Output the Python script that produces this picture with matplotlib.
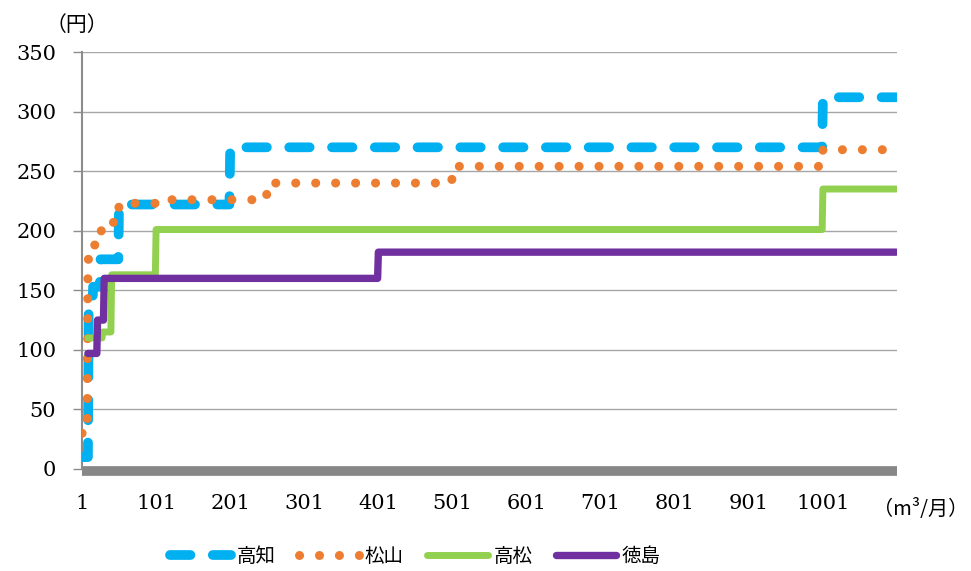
import matplotlib
matplotlib.use("Agg")
import matplotlib.pyplot as plt
import numpy as np

plt.rcParams['font.family'] = ['Noto Sans CJK JP', 'DejaVu Sans']

# usage categories 1..1100 (m3/month)
n_cat = 1100

# tiers: first category of each tier and its price (yen)
kochi_start = [1, 10, 16, 26, 51, 201, 1001]
kochi_val = [10, 135, 153, 176, 222, 270, 312]

matsuyama_start = [1, 9, 18, 27, 41, 51, 101, 251, 501, 1001]
matsuyama_val = [30, 176, 188, 200, 207, 223, 226, 240, 254, 268]

takamatsu_start = [9, 29, 41, 101, 1001]
takamatsu_val = [110, 115, 163, 201, 235]

tokushima_start = [9, 22, 31, 401]
tokushima_val = [97, 125, 160, 182]

names = ["高知", "松山", "高松", "徳島"]
xtick_labels = ["1", "101", "201", "301", "401", "501", "601", "701", "801", "901", "1001"]


def expand(starts, vals):
    out = np.full(n_cat, np.nan)
    ends = starts[1:] + [n_cat + 1]
    for s, e, v in zip(starts, ends, vals):
        out[s - 1:e - 1] = v
    return out


x = np.arange(1, n_cat + 1)
kochi = expand(kochi_start, kochi_val)
matsuyama = expand(matsuyama_start, matsuyama_val)
takamatsu = expand(takamatsu_start, takamatsu_val)
tokushima = expand(tokushima_start, tokushima_val)

fig = plt.figure(figsize=(9.71, 5.71), dpi=100)
ax = fig.add_axes([82 / 971, 1 - 469 / 571, (897 - 82) / 971, (469 - 52) / 571])

ax.plot(x, kochi, color="#00B0F0", lw=7, linestyle=(0, (2.1, 2.3)),
        dash_capstyle="round", solid_capstyle="round", label=names[0], zorder=3)
ax.plot(x, matsuyama, color="#ED7D31", lw=6.5, linestyle=(0, (0.01, 2.2)),
        dash_capstyle="round", label=names[1], zorder=4)
ax.plot(x, takamatsu, color="#92D050", lw=5, solid_capstyle="round",
        solid_joinstyle="round", label=names[2], zorder=5)
ax.plot(x, tokushima, color="#7030A0", lw=5.3, solid_capstyle="round",
        solid_joinstyle="round", label=names[3], zorder=6)

ax.set_xlim(1, 1101)
ax.set_ylim(0, 350)
ax.set_yticks(np.arange(0, 351, 50))
ax.set_xticks(np.arange(1, 1002, 100))
ax.set_xticklabels(xtick_labels)
ax.grid(axis="y", color="#a6a6a6", lw=1)
ax.set_axisbelow(True)

for s in ["top", "right"]:
    ax.spines[s].set_visible(False)
ax.spines["left"].set_color("#8c8c8c")
ax.spines["left"].set_linewidth(1.5)
ax.spines["bottom"].set_color("#878787")
ax.spines["bottom"].set_linewidth(7)
ax.spines["bottom"].set_capstyle("butt")
ax.spines["bottom"].set_position(("data", -1.5))
ax.spines["bottom"].set_zorder(2)

ax.tick_params(axis="y", length=6.5, width=1, color="#8c8c8c", pad=12)
ax.tick_params(axis="x", length=0, pad=17)
for lab in ax.get_xticklabels() + ax.get_yticklabels():
    lab.set_fontfamily("DejaVu Serif")
    lab.set_fontsize(15)

fig.text(77 / 971, 1 - 25 / 571, "（円）", ha="center", va="center", fontsize=15)
fig.text(968 / 971, 1 - 510 / 571, "（m³/月）", ha="right", va="center", fontsize=14.5)

fig.legend(loc="center", bbox_to_anchor=(0.428, 1 - 556 / 571), ncol=4, frameon=False,
           fontsize=14, handlelength=3.1, columnspacing=1.2, handletextpad=0.3)

fig.savefig("out.png", dpi=100)
